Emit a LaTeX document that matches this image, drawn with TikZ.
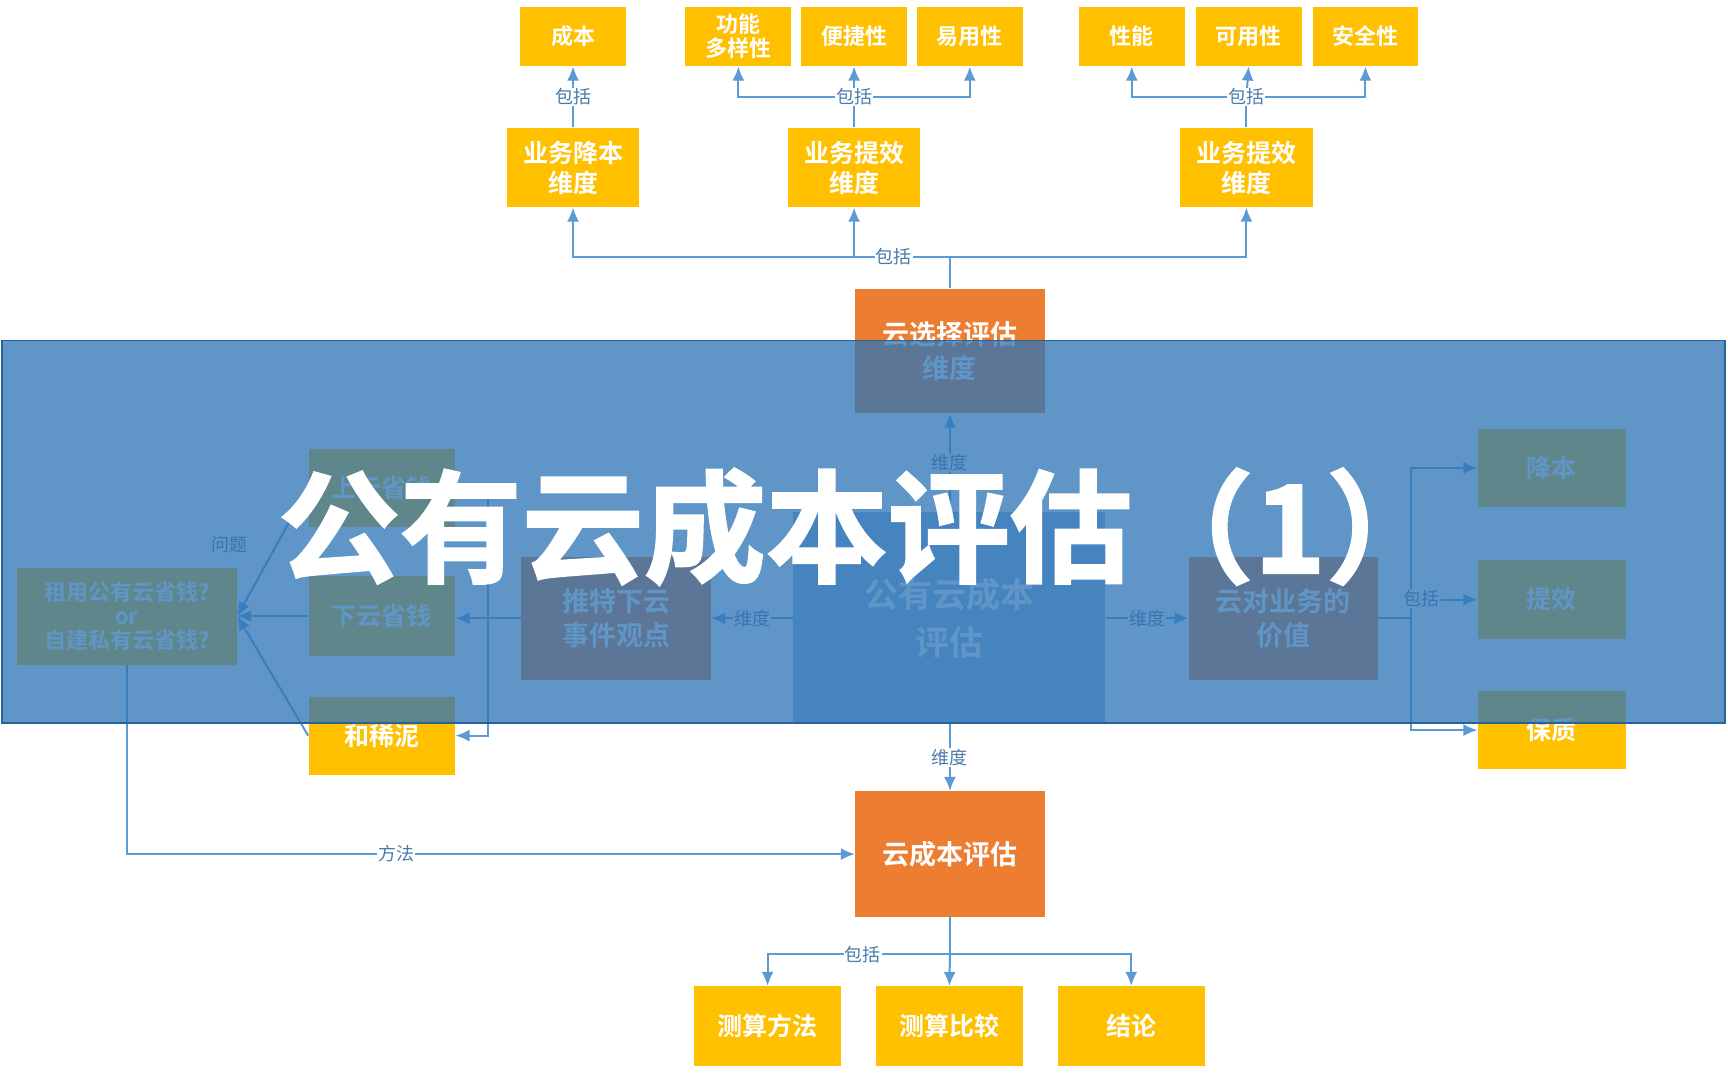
\documentclass[tikz,border=0pt]{standalone}
\usepackage{fontspec}
\setmainfont{Noto Sans CJK SC}[BoldFont={Noto Sans CJK SC Bold}]
\newfontfamily\titlefont{Noto Sans CJK SC Bold}[FakeBold=1.6]
\usetikzlibrary{arrows.meta}
\newlength\pxu \setlength\pxu{0.551pt}
\definecolor{yel}{RGB}{255,192,0}
\definecolor{org}{RGB}{237,125,49}
\definecolor{lnb}{RGB}{91,155,213}
\definecolor{ban}{RGB}{46,117,182}
\definecolor{cen}{RGB}{150,180,220}
\newcommand\B[7]{\node[#2, minimum width={(#5-#3)*\pxu}, minimum height={(#6-#4)*\pxu}] (#1) at ({(#3+#5)/2},{(#4+#6)/2}) {#7};}
\tikzset{
  x=0.551pt, y=-0.551pt,
  box/.style={inner sep=0pt, text=white, font=\bfseries, align=center},
  ybox/.style={box, fill=yel, font=\bfseries\fontsize{11}{12}\selectfont},
  mbox/.style={ybox, font=\bfseries\fontsize{12.5}{15}\selectfont},
  obox/.style={box, fill=org, font=\bfseries\fontsize{13.5}{17}\selectfont},
  cbox/.style={box, fill=cen, font=\bfseries\fontsize{17}{24}\selectfont},
  line/.style={draw=lnb, line width=1pt},
  arr/.style={line, -{Latex[length=7pt,width=6pt]}},
  lbl/.style={fill=white, inner sep=0.5pt, text=lnb!80!black, font=\fontsize{9}{10}\selectfont},
}
\begin{document}
\begin{tikzpicture}
\useasboundingbox (0,0) rectangle (1568,980);
\fill[white] (0,0) rectangle (1568,980);
% top row
\B{t1}{ybox}{472}{6}{568}{60}{成本}
\B{t2}{ybox}{622}{6}{718}{60}{功能\\多样性}
\B{t3}{ybox}{727}{6}{823}{60}{便捷性}
\B{t4}{ybox}{832}{6}{928}{60}{易用性}
\B{t5}{ybox}{979}{6}{1075}{60}{性能}
\B{t6}{ybox}{1085}{6}{1181}{60}{可用性}
\B{t7}{ybox}{1191}{6}{1287}{60}{安全性}
% second row
\B{m1}{mbox}{460}{116}{580}{188}{业务降本\\维度}
\B{m2}{mbox}{715}{116}{835}{188}{业务提效\\维度}
\B{m3}{mbox}{1071}{116}{1191}{188}{业务提效\\维度}
\B{sel}{obox}{776}{262}{948}{375}{云选择评估\\维度}
% central
\B{cen}{cbox}{720}{465}{1003}{657}{公有云成本\\评估}
\B{tw}{obox}{473}{505}{645}{617}{推特下云\\事件观点}
\B{val}{obox}{1079}{505}{1250}{617}{云对业务的\\价值}
\B{up}{mbox}{280}{407}{413}{478}{上云省钱}
\B{down}{mbox}{280}{523}{413}{595}{下云省钱}
\B{mix}{mbox}{280}{632}{413}{703}{和稀泥}
\B{q}{ybox}{15}{515}{215}{603}{租用公有云省钱?\\or\\自建私有云省钱?}
\B{r1}{mbox}{1341}{389}{1475}{460}{降本}
\B{r2}{mbox}{1341}{508}{1475}{580}{提效}
\B{r3}{mbox}{1341}{627}{1475}{698}{保质}
\B{cost}{obox}{776}{718}{948}{832}{云成本评估}
\B{b1}{mbox}{630}{895}{763}{967}{测算方法}
\B{b2}{mbox}{795}{895}{928}{967}{测算比较}
\B{b3}{mbox}{960}{895}{1093}{967}{结论}
% top connectors
\draw[arr] (m1.north) -- node[lbl,pos=0.5]{包括} (t1.south);
\coordinate (j2) at (775,88);
\draw[line] (m2.north) -- (j2);
\draw[arr] (j2) -| (t2.south);
\draw[arr] (j2) -| (t4.south);
\draw[arr] (j2) -- (t3.south);
\node[lbl] at (j2) {包括};
\coordinate (j3) at (1131,88);
\draw[line] (m3.north) -- (j3);
\draw[arr] (j3) -| (t5.south);
\draw[arr] (j3) -| (t7.south);
\draw[arr] (j3) -- (t6.south);
\node[lbl] at (j3) {包括};
\coordinate (j1) at (862,233);
\draw[line] (sel.north) -- (j1);
\draw[arr] (j1) -| (m1.south);
\draw[arr] (j1) -| (m3.south);
\draw[arr] (775,233) -- (m2.south);
\node[lbl] at (811,233) {包括};
% middle connectors
\draw[arr] (cen.north -| sel.south) -- node[lbl]{维度} (sel.south);
\draw[arr] (cen.west |- tw.east) -- node[lbl]{维度} (tw.east);
\draw[arr] (cen.east |- val.west) -- node[lbl]{维度} (val.west);
\coordinate (jl) at (443,561);
\draw[line] (tw.west) -- (jl);
\draw[arr] (jl) -- (down.east |- jl);
\draw[arr] (jl) |- (up.east);
\draw[arr] (jl) |- (mix.east);
\draw[arr] (down.west |- q.east) -- (q.east);
\draw[arr] (up.west) -- (q.east);
\draw[arr] (mix.west) -- (q.east);
\node[lbl, fill=none] at (208,494) {问题};
\coordinate (jr) at (1280,561);
\draw[line] (val.east) -- (jr);
\draw[arr] (jr) |- (r1.west);
\draw[arr] (jr) |- (r2.west);
\draw[arr] (jr) |- (r3.west);
\node[lbl] at (1290,543) {包括};
\draw[arr] (cen.south -| cost.north) -- node[lbl]{维度} (cost.north);
\draw[arr] (q.south) |- node[lbl,pos=0.685]{方法} (cost.west);
\coordinate (jb) at (862,866);
\draw[line] (cost.south) -- (jb);
\draw[arr] (jb) -| (b1.north);
\draw[arr] (jb) -| (b3.north);
\draw[arr] (jb) -- (b2.north);
\node[lbl] at (783,866) {包括};
% banner
\fill[ban, fill opacity=0.76] (2,309) rectangle (1565,656);
\draw[ban!85!black, line width=0.8pt] (2,309) rectangle (1565,656);
\node[text=white, font=\titlefont\fontsize{61}{70}\selectfont, inner sep=0] at (783,478) {公有云成本评估（1）};
\end{tikzpicture}
\end{document}
